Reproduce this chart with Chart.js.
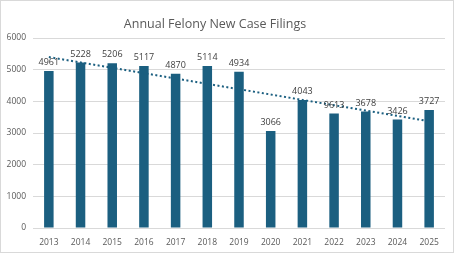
<!DOCTYPE html>
<html>
<head>
<meta charset="utf-8">
<script src="https://cdn.jsdelivr.net/npm/chart.js@4"></script>
<style>
  html, body { margin:0; padding:0; background:#fff; }
  #wrap { width:454px; height:253px; box-sizing:border-box; border:1px solid #d9d9d9; }
  canvas { display:block; }
</style>
</head>
<body>
<div id="wrap"><canvas id="felonyChart" width="452" height="251"></canvas></div>
<script>
// Data
const years = ['2013','2014','2015','2016','2017','2018','2019','2020','2021','2022','2023','2024','2025'];
const filings = [4961, 5228, 5206, 5117, 4870, 5114, 4934, 3066, 4043, 3613, 3678, 3426, 3727];
// label text as printed on the picture (2022 reads "9613")
const filingLabels = ['4961','5228','5206','5117','4870','5114','4934','3066','4043','9613','3678','3426','3727'];
const yTicks = [0, 1000, 2000, 3000, 4000, 5000, 6000];
const chartTitle = 'Annual Felony New Case Filings';

// linear trendline (least squares, like the spreadsheet one)
function trend(vals){
  const n = vals.length;
  const mx = (n - 1) / 2;
  const my = vals.reduce((a,b)=>a+b,0) / n;
  let sxy = 0, sxx = 0;
  vals.forEach((v,i)=>{ sxy += (i-mx)*(v-my); sxx += (i-mx)*(i-mx); });
  const k = sxy / sxx;
  return vals.map((v,i)=> my + k*(i-mx));
}

// value labels above bars + title (title sits a bit left of centre, like the original)
const barLabels = {
  id:'barLabels',
  afterDatasetsDraw(chart){
    const meta = chart.getDatasetMeta(1); // the bar dataset
    const c = chart.ctx;
    c.save();
    c.font = '9px "Open Sans", sans-serif';
    c.fillStyle = '#404040';
    c.textAlign = 'center';
    c.textBaseline = 'bottom';
    meta.data.forEach((bar,i)=>{
      c.fillText(filingLabels[i], bar.x, bar.y - 4);
    });
    c.font = '12.5px "Open Sans", sans-serif';
    c.fillStyle = '#595959';
    c.textBaseline = 'middle';
    c.fillText(chartTitle, 214, 23);
    c.restore();
  }
};

const ctx = document.getElementById('felonyChart');
new Chart(ctx, {
  data: {
    labels: years,
    datasets: [
      {
        type:'line',
        data: trend(filings),
        borderColor:'#1b5f80',
        borderWidth:2,
        borderDash:[2,2.5],
        pointRadius:0,
        fill:false,
        order:0
      },
      {
        type:'bar',
        data: filings,
        backgroundColor:'#1b5f80',
        barPercentage:0.6,
        categoryPercentage:0.5,
        order:1
      }
    ]
  },
  options: {
    responsive:false,
    animation:false,
    layout:{ padding:{ left:4, right:8, top:37, bottom:0 } },
    plugins:{
      legend:{ display:false },
      tooltip:{ enabled:false },
      title:{ display:false }
    },
    scales:{
      x:{
        afterFit(s){ s.height = 24; },
        grid:{ display:false },
        border:{ display:false },
        ticks:{ color:'#595959', font:{ family:'"Open Sans", sans-serif', size:8.5 }, padding:1, maxRotation:0 }
      },
      y:{
        min:0, max:6000,
        afterBuildTicks(s){ s.ticks = yTicks.map(v=>({value:v})); },
        afterFit(s){ s.width = 28; },
        grid:{ color:'#d9d9d9', drawTicks:false },
        border:{ display:false },
        ticks:{ color:'#595959', font:{ family:'"Open Sans", sans-serif', size:8.5 }, padding:7,
                callback:(v)=>String(v) }
      }
    }
  },
  plugins:[barLabels]
});
</script>
</body>
</html>
